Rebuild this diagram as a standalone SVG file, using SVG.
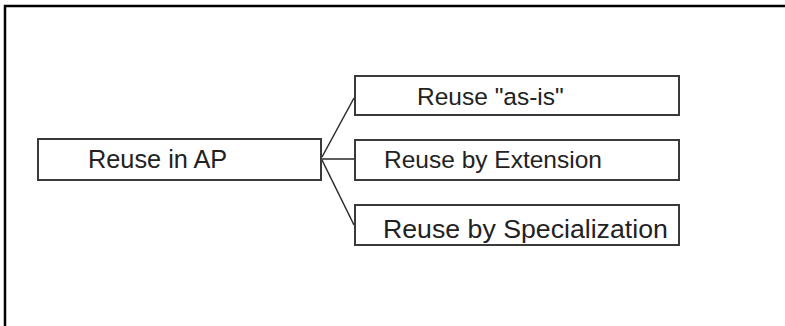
<svg xmlns="http://www.w3.org/2000/svg" width="785" height="326" viewBox="0 0 785 326">
<style>
.box{fill:#fff;stroke:#3a3a3a;stroke-width:2}
.lbl{font-family:"Liberation Sans",Arial,sans-serif;font-size:24.5px;fill:#222}
.conn{stroke:#2a2a2a;stroke-width:1.5;fill:none}
</style>
<rect width="785" height="326" fill="#fff"/>
<path d="M5,326 V6 H785" fill="none" stroke="#000" stroke-width="2.5"/>
<g id="connectors">
<line class="conn" x1="322" y1="157" x2="354" y2="98"/>
<line class="conn" x1="322" y1="159" x2="355" y2="159"/>
<line class="conn" x1="322" y1="160" x2="354" y2="225"/>
</g>
<g id="reuse-in-ap">
<rect class="box" x="38" y="139" width="283" height="41"/>
<text class="lbl" x="88" y="168" style="font-size:25.3px">Reuse in AP</text>
</g>
<g id="reuse-as-is">
<rect class="box" x="355" y="76" width="324" height="39"/>
<text class="lbl" x="417" y="105">Reuse "as-is"</text>
</g>
<g id="reuse-by-extension">
<rect class="box" x="355" y="140" width="324" height="40"/>
<text class="lbl" x="384" y="168">Reuse by Extension</text>
</g>
<g id="reuse-by-specialization">
<rect class="box" x="355" y="205" width="324" height="40"/>
<text class="lbl" x="383" y="238" style="font-size:26.7px">Reuse by Specialization</text>
</g>
</svg>
